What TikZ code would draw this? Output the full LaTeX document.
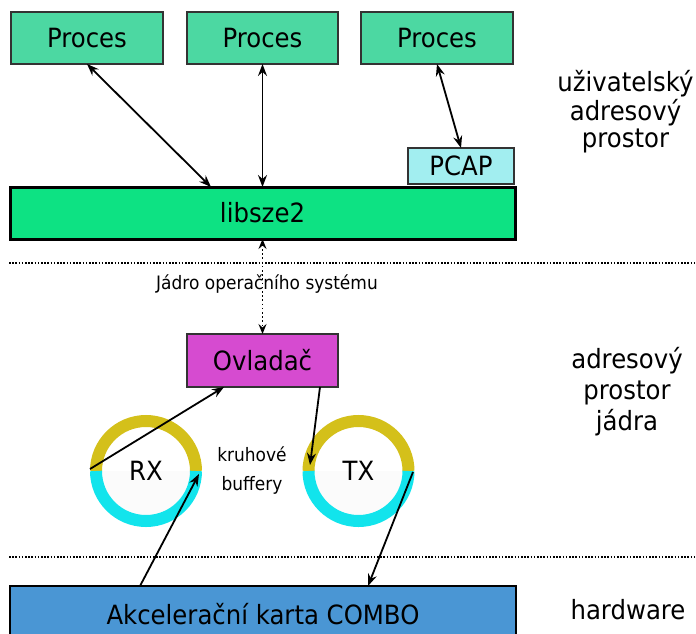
\documentclass[tikz,border=0pt]{standalone}
\usepackage{fontspec}
\setmainfont{DejaVu Sans}[FakeStretch=0.92]
\usetikzlibrary{arrows.meta,calc}
\definecolor{procc}{HTML}{4CD8A2}
\definecolor{libc}{HTML}{0DE283}
\definecolor{pcapc}{HTML}{A2EEF0}
\definecolor{ovlc}{HTML}{D64BD0}
\definecolor{comboc}{HTML}{4A96D4}
\definecolor{ringy}{HTML}{D4C01A}
\definecolor{ringc}{HTML}{12E4EC}
\begin{document}
\begin{tikzpicture}[x=1pt,y=-1pt,
  big/.style={font=\fontsize{26.5}{30}\selectfont},
  small/.style={font=\fontsize{18.5}{22}\selectfont},
  box/.style={draw=black!80, line width=1.3pt, inner sep=0pt, outer sep=0pt, big},
  tip/.tip={Stealth[length=12pt,width=9pt,inset=4pt]},
  arr/.style={line width=1.8pt, -tip},
  darr/.style={line width=1.8pt, tip-tip},
  sep/.style={line width=1.6pt, dash pattern=on 1.6pt off 1.6pt},
  ring/.style={line width=12pt},
]
\fill[white] (0,0) rectangle (696,634);
\useasboundingbox (0,0) rectangle (696,634);

% boxes
\node[box, fill=procc, minimum width=152pt, minimum height=52pt] (p1) at (87,38) {Proces};
\node[box, fill=procc, minimum width=151pt, minimum height=52pt] (p2) at (262.5,38) {Proces};
\node[box, fill=procc, minimum width=152pt, minimum height=52pt] (p3) at (437,38) {Proces};
\node[box, fill=pcapc, minimum width=106pt, minimum height=36pt] (pcap) at (461,166) {PCAP};
\node[box, fill=libc, draw=black, line width=3pt, minimum width=505pt, minimum height=52pt] (lib) at (262.5,213) {libsze2};
\node[box, fill=ovlc, minimum width=151pt, minimum height=53pt] (ovl) at (262.5,360.5) {Ovladač};
\node[box, fill=comboc, draw=black, line width=2.5pt, minimum width=506pt, minimum height=56pt] (combo) at (263,614) {Akcelerační karta COMBO};

% separators
\coordinate (s1a) at (9,263); \coordinate (s1b) at (696,263);
\coordinate (s2a) at (9,557); \coordinate (s2b) at (696,557);
\draw[sep] (s1a) -- (s1b);
\draw[sep] (s2a) -- (s2b);

% rings
\foreach \n/\x in {rx/146, tx/358.5} {
  \fill[black!1.5] (\x,471) ++(0:44) arc[start angle=0,end angle=180,radius=44] -- cycle;
  \draw[ring, ringy] (\x,471) ++(180:50) arc[start angle=180,end angle=360,radius=50];
  \draw[ring, ringc] (\x,471) ++(0:50) arc[start angle=0,end angle=180,radius=50];
}
\node[big, circle, minimum size=112pt, inner sep=0pt] (rx) at (146,471) {RX};
\node[big, circle, minimum size=112pt, inner sep=0pt] (tx) at (358.5,471) {TX};

\node[small, anchor=base] (kr) at (252,461) {kruhové};
\node[small, anchor=base] (bf) at (252,490) {buffery};
\node[small] (jadro) at (267,284) {Jádro operačního systému};

% right labels
\node[big, anchor=base] (u1) at (625.5,92) {uživatelský};
\node[big, anchor=base] (u2) at (625.5,120) {adresový};
\node[big, anchor=base] (u3) at (625.5,147.5) {prostor};
\node[big, anchor=base] (k1) at (627,368) {adresový};
\node[big, anchor=base] (k2) at (627,399) {prostor};
\node[big, anchor=base] (k3) at (627,430) {jádra};
\node[big, anchor=base] (hw) at (628,619) {hardware};

% connectors
\draw[darr] (p1.south) -- ($(lib.north)+(-51.5,0)$);
\draw[darr] (p2.south) -- (lib.north);
\draw[darr] (p3.south) -- (pcap.north);
\draw[line width=1.6pt, dash pattern=on 1.6pt off 2.6pt,
  {Stealth[length=10pt,width=8pt,inset=3.5pt]}-{Stealth[length=10pt,width=8pt,inset=3.5pt]}]
  (lib.south) -- (ovl.north);

\coordinate (rxout) at (90,469);
\coordinate (rxin) at (199,474);
\coordinate (txin) at (310,465);
\coordinate (txout) at (413,472);
\draw[arr] (rxout) -- ($(ovl.south)+(-38.5,0)$);
\draw[arr] ($(ovl.south)+(57.5,0)$) -- (txin);
\draw[arr] ($(combo.north)+(-123,0)$) -- (rxin);
\draw[arr] (txout) -- ($(combo.north)+(105,0)$);
\end{tikzpicture}
\end{document}
